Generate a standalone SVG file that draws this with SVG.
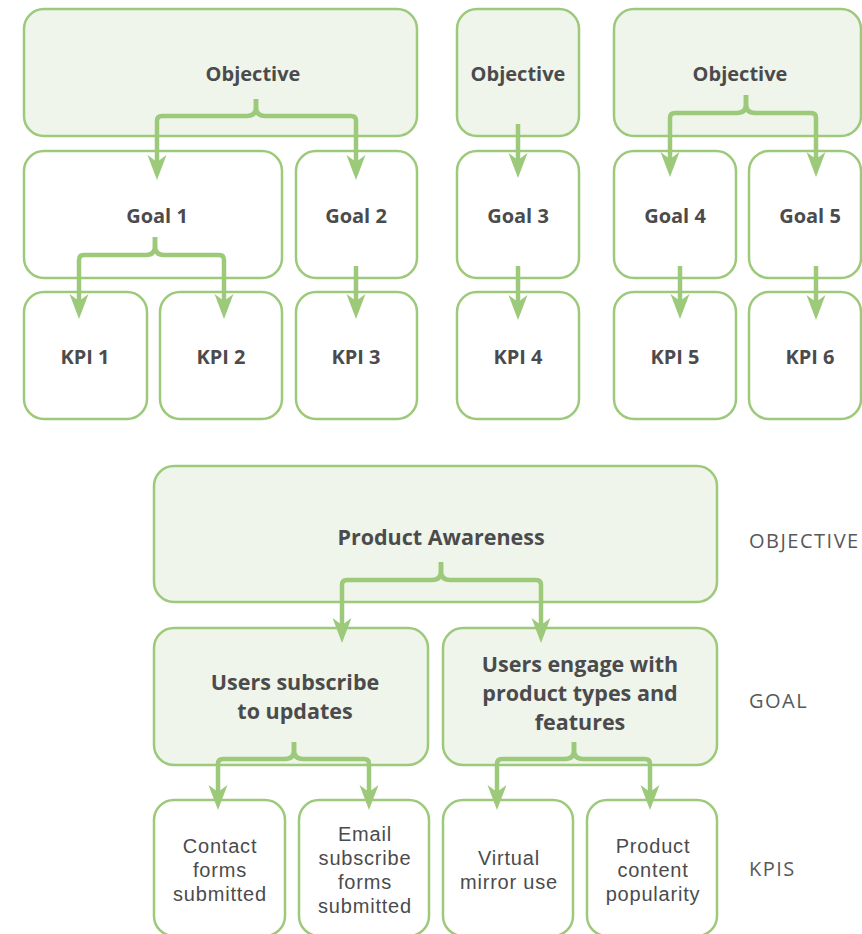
<svg xmlns="http://www.w3.org/2000/svg" width="862" height="934" viewBox="0 0 862 934">
<defs>
<style>
.box{fill:#ffffff;stroke:#9cc97a;stroke-width:2.5}
.fill{fill:#eff5ea;stroke:#9cc97a;stroke-width:2.5}
.t{font-family:"Open Sans","Liberation Sans",sans-serif;font-weight:700;fill:#4b4b4d;text-anchor:middle}
.t20{font-size:20px}
.t22{font-size:21.5px}
.r{font-family:"Liberation Sans",Arial,sans-serif;font-weight:400;font-size:20px;letter-spacing:0.8px;fill:#4b4b4d;text-anchor:middle}
.lab{font-family:"Open Sans","Liberation Sans",sans-serif;font-weight:400;font-size:20px;fill:#58585a;letter-spacing:1.5px}
.c{fill:none;stroke:#9cc97a;stroke-width:4.5;stroke-linejoin:round;marker-end:url(#ah)}
</style>
<marker id="ah" markerUnits="userSpaceOnUse" viewBox="-26 -11 28 22" markerWidth="28" markerHeight="22" refX="-12" refY="0" orient="auto" overflow="visible">
<path d="M0,0 L-25,-9.5 L-18,0 L-25,9.5 Z" fill="#9cc97a"/>
</marker>
</defs>

<g id="obj1"><rect class="fill" x="24" y="9" width="393" height="127" rx="20"/><text class="t t20" x="253" y="81">Objective</text></g>
<g id="obj2"><rect class="fill" x="457" y="9" width="122" height="127" rx="20"/><text class="t t20" x="518" y="81">Objective</text></g>
<g id="obj3"><rect class="fill" x="614" y="9" width="247" height="127" rx="20"/><text class="t t20" x="740" y="81">Objective</text></g>

<g id="goal1"><rect class="box" x="24" y="151" width="258" height="127" rx="20"/><text class="t t20" x="157" y="223">Goal 1</text></g>
<g id="goal2"><rect class="box" x="296" y="151" width="121" height="127" rx="20"/><text class="t t20" x="356" y="223">Goal 2</text></g>
<g id="goal3"><rect class="box" x="457" y="151" width="122" height="127" rx="20"/><text class="t t20" x="518" y="223">Goal 3</text></g>
<g id="goal4"><rect class="box" x="614" y="151" width="122" height="127" rx="20"/><text class="t t20" x="675" y="223">Goal 4</text></g>
<g id="goal5"><rect class="box" x="749" y="151" width="112" height="127" rx="20"/><text class="t t20" x="810" y="223">Goal 5</text></g>

<g id="kpi1"><rect class="box" x="24" y="292" width="123" height="127" rx="20"/><text class="t t20" x="85" y="364">KPI 1</text></g>
<g id="kpi2"><rect class="box" x="160" y="292" width="122" height="127" rx="20"/><text class="t t20" x="221" y="364">KPI 2</text></g>
<g id="kpi3"><rect class="box" x="296" y="292" width="121" height="127" rx="20"/><text class="t t20" x="356" y="364">KPI 3</text></g>
<g id="kpi4"><rect class="box" x="457" y="292" width="122" height="127" rx="20"/><text class="t t20" x="518" y="364">KPI 4</text></g>
<g id="kpi5"><rect class="box" x="614" y="292" width="122" height="127" rx="20"/><text class="t t20" x="675" y="364">KPI 5</text></g>
<g id="kpi6"><rect class="box" x="749" y="292" width="112" height="127" rx="20"/><text class="t t20" x="810" y="364">KPI 6</text></g>

<g id="pa"><rect class="fill" x="154" y="466" width="563" height="136" rx="20"/><text class="t t22" x="441" y="545">Product Awareness</text></g>
<g id="ga"><rect class="fill" x="154" y="628" width="274" height="137" rx="20"/><text class="t t22" x="295" y="690">Users subscribe</text><text class="t t22" x="295" y="719">to updates</text></g>
<g id="gb"><rect class="fill" x="443" y="628" width="274" height="137" rx="20"/><text class="t t22" x="580" y="672">Users engage with</text><text class="t t22" x="580" y="701">product types and</text><text class="t t22" x="580" y="730">features</text></g>

<g id="ka"><rect class="box" x="154" y="800" width="131" height="136" rx="20"/><text class="r" x="220" y="853">Contact</text><text class="r" x="220" y="877">forms</text><text class="r" x="220" y="901">submitted</text></g>
<g id="kb"><rect class="box" x="299" y="800" width="130" height="136" rx="20"/><text class="r" x="365" y="841">Email</text><text class="r" x="365" y="865">subscribe</text><text class="r" x="365" y="889">forms</text><text class="r" x="365" y="913">submitted</text></g>
<g id="kc"><rect class="box" x="443" y="800" width="130" height="136" rx="20"/><text class="r" x="509" y="865">Virtual</text><text class="r" x="509" y="889">mirror use</text></g>
<g id="kd"><rect class="box" x="587" y="800" width="130" height="136" rx="20"/><text class="r" x="653" y="853">Product</text><text class="r" x="653" y="877">content</text><text class="r" x="653" y="901">popularity</text></g>

<g id="labels">
<text class="lab" x="749" y="548">OBJECTIVE</text>
<text class="lab" x="749" y="708">GOAL</text>
<text class="lab" x="749" y="876">KPIS</text>
</g>

<g id="connectors">
<path class="c" d="M256,99 V107 Q256,116 247,116 H162 Q157,116 157,121 V168"/>
<path class="c" d="M256,99 V107 Q256,116 265,116 H351 Q356,116 356,121 V168"/>
<path class="c" d="M518,124 V166"/>
<path class="c" d="M746,95 V104 Q746,113 737,113 H675 Q670,113 670,118 V165"/>
<path class="c" d="M746,95 V104 Q746,113 755,113 H811 Q816,113 816,118 V165"/>
<path class="c" d="M155,237 V246 Q155,255 146,255 H84 Q79,255 79,260 V307"/>
<path class="c" d="M155,237 V246 Q155,255 164,255 H219 Q224,255 224,260 V307"/>
<path class="c" d="M356,266 V307"/>
<path class="c" d="M518,266 V308"/>
<path class="c" d="M680,266 V307"/>
<path class="c" d="M816,266 V308"/>
<path class="c" d="M441,562 V571 Q441,580 432,580 H347 Q342,580 342,585 V631"/>
<path class="c" d="M441,562 V571 Q441,580 450,580 H536 Q541,580 541,585 V631"/>
<path class="c" d="M294,742 V750 Q294,759 285,759 H223 Q218,759 218,764 V798"/>
<path class="c" d="M294,742 V750 Q294,759 303,759 H364 Q369,759 369,764 V798"/>
<path class="c" d="M574,742 V750 Q574,759 565,759 H502 Q497,759 497,764 V798"/>
<path class="c" d="M574,742 V750 Q574,759 583,759 H645 Q650,759 650,764 V798"/>
</g>
</svg>
